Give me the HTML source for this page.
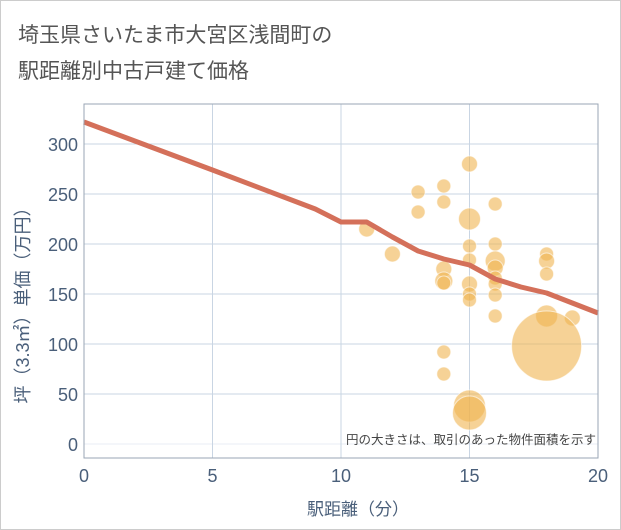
<!DOCTYPE html>
<html><head><meta charset="utf-8">
<style>
body{margin:0;background:#fff;font-family:"Liberation Sans","Noto Sans CJK JP",sans-serif;}
#wrap{position:relative;width:619px;height:528px;border:1px solid #ccc;overflow:hidden;}
svg text{font-family:"Liberation Sans","Noto Sans CJK JP",sans-serif;}
</style></head><body>
<div id="wrap">
<svg id="chart" width="621" height="530">
<text x="17" y="41" font-size="21" fill="#555">埼玉県さいたま市大宮区浅間町の</text>
<text x="17" y="77" font-size="21" fill="#555">駅距離別中古戸建て価格</text>
<g id="grid"></g><g id="pts"></g><g id="line"></g><g id="axes"></g>
<text x="595" y="443" font-size="12.5" fill="#444" text-anchor="end">円の大きさは、取引のあった物件面積を示す</text>
<text x="357" y="514" font-size="17" fill="#4a5f7a" text-anchor="middle">駅距離（分）</text>
<text transform="translate(28,300) rotate(-90)" font-size="18" fill="#4a5f7a" text-anchor="middle">坪（3.3㎡）単価（万円）</text>
</svg></div>
<script>
const xTicks=[0,5,10,15,20];
const yTicks=[0,50,100,150,200,250,300];
const ptX=[15,13,13,14,14,15,16,11,12,15,15,14,14,14,15,15,15,16,16,16,16,16,16,16,18,18,18,18,19,18,14,14,15,15];
const ptY=[280,252,232,258,242,225,240,215,190,198,184,175,163,161,160,150,144,200,183,176,166,160,149,128,190,183,170,128,126,98,92,70,38,31];
const ptR=[8,7,7,7,7,11,7,8,8,7,7,8,9,7,8,7,7,7,10,8,7,7,7,7,7,8,7,11,8,35,7,7,16,17];
const lineX=[0,5,9,10,11,12,13,14,15,16,17,18,19,20];
const lineY=[322,274,235,222,222,207,193,185,179,165,157,151,141,131];
const L=83,R=597,T=103,B=457;
const sx=v=>L+(v-0)/20*(R-L);
const sy=v=>443-(v-0)*1.0;
const NS="http://www.w3.org/2000/svg";
function mk(t,a,p){const e=document.createElementNS(NS,t);for(const k in a)e.setAttribute(k,a[k]);p.appendChild(e);return e;}
const grid=document.getElementById('grid'),axes=document.getElementById('axes');
yTicks.forEach(v=>{const g=mk('line',{x1:L,x2:R,y1:sy(v),y2:sy(v),stroke:v===0?'#e8eef5':'#c9d5e3','stroke-width':1},grid);


const t=mk('text',{x:L-6,y:sy(v)+7,'font-size':18,fill:'#4a5f7a','text-anchor':'end'},axes);t.textContent=v;

});
xTicks.forEach(v=>{if(v>0&&v<20){const g=mk('line',{x1:sx(v),x2:sx(v),y1:T,y2:B,stroke:'#c9d5e3','stroke-width':1},grid);

}
const t=mk('text',{x:sx(v),y:481,'font-size':18,fill:'#4a5f7a','text-anchor':'middle'},axes);t.textContent=v;

});
const fr=mk('rect',{x:L,y:T,width:R-L,height:B-T,fill:'none',stroke:'#9aa6b4','stroke-width':1},axes);


const pts=document.getElementById('pts');
ptX.forEach((x,i)=>{const c=mk('circle',{cx:sx(x),cy:sy(ptY[i]),r:ptR[i],fill:'rgba(240,180,80,0.6)',stroke:'rgba(255,255,255,0.6)','stroke-width':1},pts);

});
const p=mk('polyline',{points:lineX.map((x,i)=>sx(x)+','+sy(lineY[i])).join(' '),fill:'none',stroke:'#d4705a','stroke-width':5,'stroke-linejoin':'round'},document.getElementById('line'));


</script>
</body></html>
